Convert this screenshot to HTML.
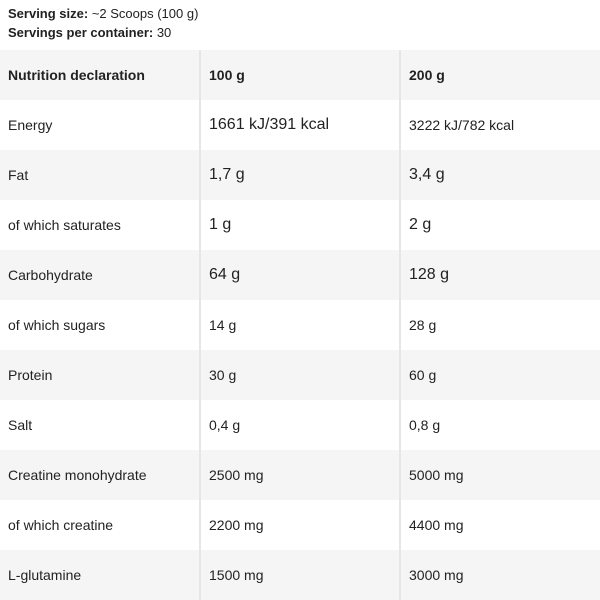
<!DOCTYPE html>
<html><head><meta charset="utf-8"><style>
body{margin:0;width:600px;height:600px;background:#fff;font-family:"Liberation Sans",sans-serif;color:#222;overflow:hidden}
.top{position:absolute;left:8px;top:4px;font-size:13px;line-height:19px}
table{position:absolute;left:0;top:50px;width:600px;border-collapse:collapse;table-layout:fixed}
td{height:50px;padding:0 0 0 8px;font-size:14px;vertical-align:middle;border-right:2px solid #e6e6e6;box-sizing:border-box}
td:last-child{border-right:none}
tr:nth-child(odd) td{background:#f5f5f5}
.b{font-weight:bold}
.a{font-size:16px}
</style></head><body>
<div class="top"><span class="b">Serving size:</span> ~2 Scoops (100 g)<br><span class="b">Servings per container:</span> 30</div>
<table>
<colgroup><col style="width:200px"><col style="width:200px"><col style="width:200px"></colgroup>
<tr><td class="b">Nutrition declaration</td><td class="b">100 g</td><td class="b">200 g</td></tr>
<tr><td>Energy</td><td class="a">1661 kJ/391 kcal</td><td>3222 kJ/782 kcal</td></tr>
<tr><td>Fat</td><td class="a">1,7 g</td><td class="a">3,4 g</td></tr>
<tr><td>of which saturates</td><td class="a">1 g</td><td class="a">2 g</td></tr>
<tr><td>Carbohydrate</td><td class="a">64 g</td><td class="a">128 g</td></tr>
<tr><td>of which sugars</td><td>14 g</td><td>28 g</td></tr>
<tr><td>Protein</td><td>30 g</td><td>60 g</td></tr>
<tr><td>Salt</td><td>0,4 g</td><td>0,8 g</td></tr>
<tr><td>Creatine monohydrate</td><td>2500 mg</td><td>5000 mg</td></tr>
<tr><td>of which creatine</td><td>2200 mg</td><td>4400 mg</td></tr>
<tr><td>L-glutamine</td><td>1500 mg</td><td>3000 mg</td></tr>
</table>
</body></html>
